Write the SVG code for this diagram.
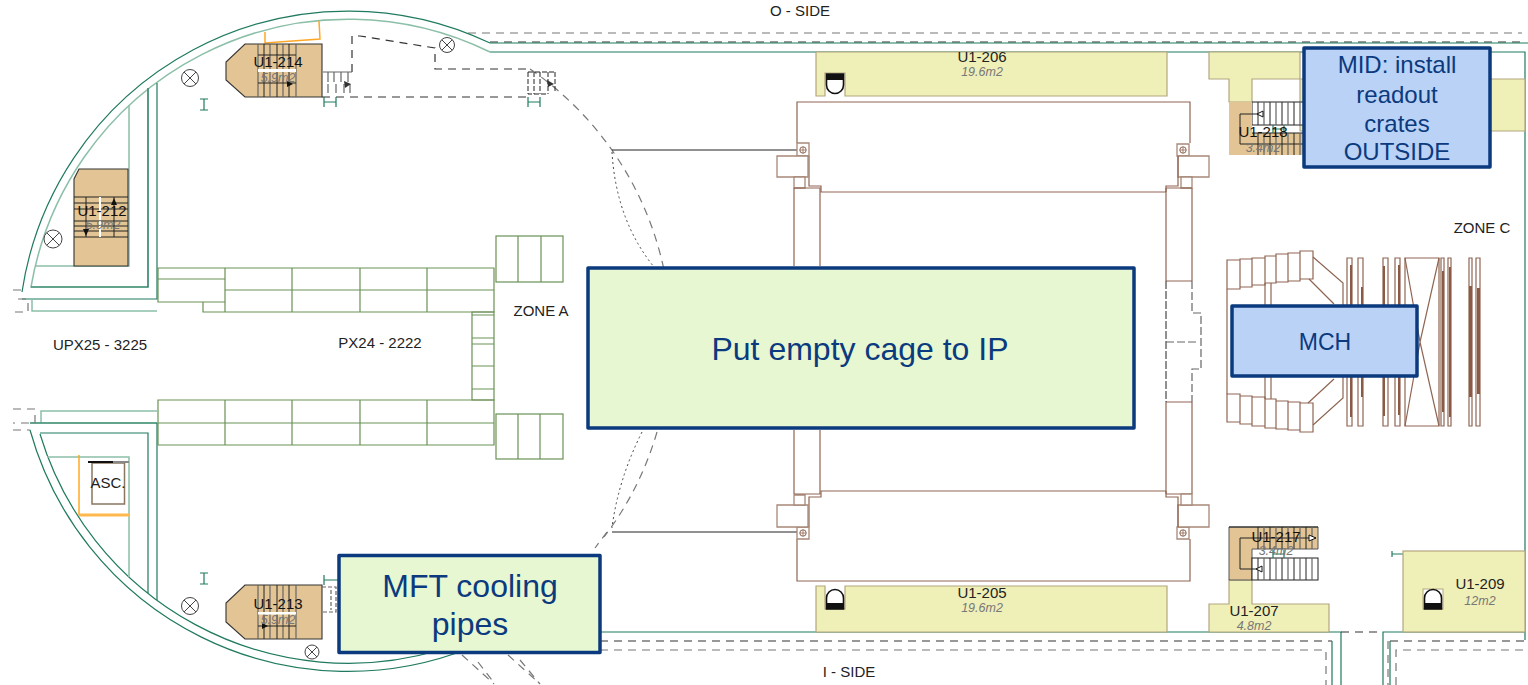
<svg xmlns="http://www.w3.org/2000/svg" width="1528" height="685" viewBox="0 0 1528 685">
<style>
text{font-family:"Liberation Sans",Arial,sans-serif;fill:#222}
.t{font-size:15px;text-anchor:middle}
.a{font-size:12.500px;text-anchor:middle;font-style:italic;fill:#777}
.s{font-size:15px;text-anchor:middle;fill:#111}
.c{fill:#0B3A7E;text-anchor:middle}
.box{stroke:#0B3A7E;stroke-width:3.500;stroke-linejoin:round}
.g{fill:#E6F7D2}.b{fill:#B9D2F6}
.w{fill:none;stroke:#1F7A5F;stroke-width:1.200}
.l{fill:none;stroke:#8CBFA8;stroke-width:1.500}
.gr{fill:none;stroke:#6B9157;stroke-width:1.200}
.d{fill:none;stroke:#333;stroke-width:1.200;stroke-dasharray:8 6}
.dg{fill:none;stroke:#777;stroke-width:1.200;stroke-dasharray:8 6}
.dt{fill:none;stroke:#444;stroke-width:1;stroke-dasharray:2 3}
.k{fill:none;stroke:#222;stroke-width:1}
.kg{fill:none;stroke:#666;stroke-width:1.200}
.br{fill:none;stroke:#8F6552;stroke-width:1.200}
.brl{fill:#fff;stroke:#A88878;stroke-width:1.300}
.bar{fill:#8B5A44}
.y{fill:#EFEFB8;stroke:#B3A67F;stroke-width:1.200}
.tan{fill:#E3C595;stroke:#333;stroke-width:1.100}
.o{fill:none;stroke:#FFA726;stroke-width:1.500}
.x{fill:#fff;stroke:#444;stroke-width:1}
</style>
<defs>
<g id="cross"><circle r="1" vector-effect="non-scaling-stroke"/><path d="M-.7-.7L.7.7M-.7.7L.7-.7" vector-effect="non-scaling-stroke"/></g>
<g id="lift"><path d="M1.500 22V11A8.500 8.500 0 0 1 18.500 11V22Z" fill="#fff" stroke="#111" stroke-width="1.600"/><rect x="1.500" y="16" width="17" height="6" fill="#111"/></g>
<g id="bolt"><circle r="3.200" fill="#fff" stroke="#8F6552" stroke-width="1"/><path d="M-3.200 0H3.200M0-3.200V3.200" stroke="#8F6552" stroke-width=".8"/></g>
</defs>

<g id="walls">
<path class="dg" d="M468 33H1522"/>
<path class="d" d="M490 42H1522"/>
<path class="w" d="M490 43H1528"/>
<path class="w" d="M490 52H1525V640"/>
<path class="w" d="M490 43A330 330 0 0 0 22 292"/>
<path class="l" d="M490 52A322 322 0 0 0 31 287H148V88"/>
<path class="w" d="M148 88V287H31"/>
<path class="w" d="M157 83V299H22"/>
<path class="l" d="M129 105V266H36"/>
<path class="l" d="M32 300V311H157"/>
<path class="dg" d="M13 290H22M18 299H28V312H13"/>
<path class="w" d="M30 430A330 330 0 0 0 470 648"/>
<path class="w" d="M40 434A322 322 0 0 0 440 650"/>
<path class="l" d="M30 423H157M41 423V411H157"/>
<path class="w" d="M30 423H157V600"/>
<path class="w" d="M40 433H148V593"/>
<path class="l" d="M47 457H129V577"/>
<path class="dg" d="M13 409H35V423H13M13 430H30"/>
<path class="o" d="M265 32V43L320 39L319 21"/>
<path class="o" d="M79 455V515"/>
<path d="M79 515H129" fill="none" stroke="#FFB84D" stroke-width="3"/>
<path class="w" d="M600 632H1341V685M1383 685V632H1525"/>
<path class="d" d="M600 641H1332M1390 641H1528"/>
<path class="dg" d="M600 650H1326V685M1396 685V650H1528"/>
<path class="w" d="M1332 641V685M1390 685V641"/>
<path class="d" d="M1341 632H1383"/>
<path class="dg" d="M1388 641V685"/>
</g>

<g id="grids">
<path class="gr" d="M158 268H494V312H203V302H158ZM158 279H225M158 302H225M225 268V312M292 268V312M360 268V312M427 268V312M225 290H494"/>
<rect class="gr" x="496" y="236" width="67" height="46"/><path class="gr" d="M518 236V282M541 236V282"/>
<path class="gr" d="M472 312H494V400H472ZM472 315H494M472 338H494M472 344H494M472 366H494M472 389H494"/>
<path class="gr" d="M158 400H494V445H158ZM158 423H494M225 400V445M292 400V445M360 400V445M427 400V445"/>
<rect class="gr" x="496" y="414" width="67" height="45"/><path class="gr" d="M518 414V459M540 414V459"/>
</g>

<g id="dashed-circle">
<path class="dg" d="M530 69A325 325 0 0 1 664 270"/>
<path class="dt" d="M612 152Q616 220 654 267"/>
<path class="k" d="M612 150H797M612 532H797"/>
<path class="dg" d="M657 432Q640 490 604 537"/>
<path class="dt" d="M642 432Q618 480 612 528"/>
<path class="dg" d="M607 532L595 548M462 655L494 684M478 662L495 684M508 655L540 684M520 660L540 684"/>
<path class="d" d="M352 72V36H360L435 48V69H530" />
<path class="d" d="M322 97H530"/>
<path class="kg" stroke-width=".8" d="M323 72H352M328 72V82M334 72V82M341 72V82M348 72V82M328 84V93M336 84V93M344 84V93M350 84V93"/>
<path d="M344 81L351 84L345 88Z" fill="#333"/>
<path class="k" stroke-width=".8" stroke-dasharray="5 2" d="M528 72V94H548M534 72V94M540 72V94M548 72V94M555 72V92M528 72H555"/>
<path d="M547 80L554 84L548 87Z" fill="#333"/>
<path class="w" d="M324 97V107M336 97V107M324 102H336M528 97V107M540 97V107M528 102H540M200 99H208M204 99V110M200 110H208M200 573H208M204 573V584M200 584H208M324 575V585M324 580H338"/>
<path class="w" d="M1392 551V557M1392 554H1403"/>
</g>

<g id="markers" class="x">
<use href="#cross" transform="translate(190 78) scale(8.500)"/>
<use href="#cross" transform="translate(447 45) scale(7.500)"/>
<use href="#cross" transform="translate(53 239) scale(9)"/>
<use href="#cross" transform="translate(190 606) scale(8.500)"/>
<use href="#cross" transform="translate(312 652) scale(7)"/>
</g>

<g id="cage">
<path class="br" d="M797 143V102H1190V143"/>
<path class="br" d="M809 156V186H821V192H1166"/>
<path class="brl" d="M797 143H809V156H797Z"/>
<path class="brl" d="M777 156H808V177H777Z"/>
<path class="brl" d="M794 177H805V188H794Z"/>
<path class="br" d="M794 188H820V266M794 188V266"/>
<path class="brl" d="M1177 144H1189V156H1177Z"/>
<path class="brl" d="M1178 156H1209V177H1178Z"/>
<path class="brl" d="M1181 177H1192V188H1181Z"/>
<path class="br" d="M1178 156V186H1166V192"/>
<path class="br" d="M1166 188H1192M1166 188V281M1192 188V281M1166 402V494M1192 402V494M1166 494H1192"/>
<path class="br" d="M1166 281H1192M1166 402H1192"/>
<path class="k" stroke-dasharray="8 2" d="M1166 281V402"/>
<path class="kg" stroke-dasharray="8 3" d="M1192 281V313H1201V369H1192V402M1166 342H1198"/>
<path class="br" d="M797 539V581H1190V539"/>
<path class="br" d="M809 527V497H821V491H1166"/>
<path class="brl" d="M797 527H809V539H797Z"/>
<path class="brl" d="M777 505H808V527H777Z"/>
<path class="brl" d="M794 495H805V505H794Z"/>
<path class="br" d="M794 494H820V430M794 494V430"/>
<path class="brl" d="M1177 527H1189V539H1177Z"/>
<path class="brl" d="M1178 505H1209V527H1178Z"/>
<path class="brl" d="M1181 494H1192V505H1181Z"/>
<path class="br" d="M1178 527V497H1166V491"/>
<use href="#bolt" x="803" y="150"/><use href="#bolt" x="1183" y="150"/><use href="#bolt" x="803" y="533"/><use href="#bolt" x="1183" y="533"/>
</g>

<g id="detector">
<path class="br" d="M1227 260H1240V289H1227ZM1240 259H1252V287H1240ZM1252 258H1265V285H1252ZM1265 256H1276V283H1265ZM1276 254H1288V282H1276ZM1288 253H1300V281H1288ZM1300 251H1313V279H1300Z"/>
<path class="br" d="M1227 289V394M1265 283V399M1271 283V399"/>
<path class="br" d="M1227 394H1240V422H1227ZM1240 396H1252V424H1240ZM1252 397H1265V426H1252ZM1265 399H1276V428H1265ZM1276 401H1288V429H1276ZM1288 402H1300V430H1288ZM1300 403H1313V432H1300Z"/>
<path class="br" d="M1313 257L1343 283V398L1313 425M1309 279L1334 304M1308 403L1334 379"/>
<path class="br" d="M1347 258H1352V426H1347ZM1358 258H1363V426H1358ZM1383 258H1388V426H1383ZM1395 258H1400V426H1395ZM1405 258H1439V426H1405ZM1441 258H1444V426H1441ZM1448 258H1451V426H1448ZM1469 258H1472V426H1469ZM1476 258H1480V426H1476Z"/>
<path class="br" d="M1405 258L1420 342L1405 426M1439 258L1420 342L1439 426"/>
<rect class="bar" x="1350" y="265" width="2" height="152"/><rect class="bar" x="1361" y="287" width="2" height="110"/>
<rect class="bar" x="1383" y="266" width="2" height="150"/><rect class="bar" x="1398" y="265" width="2" height="150"/>
<rect class="bar" x="1442" y="271" width="2" height="141"/><rect class="bar" x="1449" y="267" width="2" height="150"/>
<rect class="bar" x="1469" y="286" width="3" height="111"/><rect class="bar" x="1477" y="288" width="3" height="106"/>
</g>

<g id="u1-206"><path class="y" d="M816 52H1167V96H845V73H825V96H816Z"/><use href="#lift" transform="translate(825 96) scale(1 -1)"/><text class="t" x="982" y="62">U1-206</text><text class="a" x="982" y="76">19.6m2</text></g>
<g id="u1-205"><path class="y" d="M816 586H825V609H845V586H1167V632H816Z"/><use href="#lift" x="825" y="587"/><text class="t" x="982" y="598">U1-205</text><text class="a" x="982" y="612">19.6m2</text></g>
<g id="u1-209"><rect class="y" x="1403" y="551" width="122" height="81"/><rect x="1423" y="589" width="20" height="20" fill="#fff" stroke="#B3A67F"/><use href="#lift" x="1423" y="587"/><text class="t" x="1480" y="589">U1-209</text><text class="a" x="1480" y="605">12m2</text></g>
<g id="u1-207"><path class="y" d="M1209 632V604H1229V580H1252V604H1329V632Z"/><text class="t" x="1254" y="616">U1-207</text><text class="a" x="1254" y="630">4.8m2</text></g>

<g id="u1-217">
<path d="M1229 527H1318V549H1252V580H1229Z" fill="#E3C595" stroke="#555"/>
<rect x="1252" y="558" width="66" height="22" fill="#fff" stroke="#222"/>
<path class="k" d="M1258 527V549M1270 527V549M1282 527V549M1294 527V549M1306 527V549M1258 558V580M1270 558V580M1282 558V580M1294 558V580M1306 558V580M1316 538H1240V569H1258M1229 527H1318"/>
<path class="kg" d="M1264 527V549M1276 527V549M1288 527V549M1300 527V549M1312 527V549M1264 558V580M1276 558V580M1288 558V580M1300 558V580M1312 558V580"/>
<path d="M1309 535L1316 538L1309 541Z" fill="#fff" stroke="#111"/><path d="M1262 566L1256 569L1262 572Z" fill="#fff" stroke="#111"/>
<path class="w" d="M1273 550V558M1284 550V558M1273 554H1284"/>
<text class="s" x="1276" y="542">U1-217</text><text class="a" x="1276" y="555">3.4m2</text>
</g>

<g id="u1-213">
<path class="tan" d="M245 585H322V639H245L226 622V603Z"/>
<path class="kg" d="M258 585V639M270 585V639M283 585V639M296 585V639"/>
<path class="k" d="M264 585V639M277 585V639M289 585V639"/>
<rect x="258" y="612" width="38" height="2.500" fill="#fff"/>
<path class="k" d="M258 626H296"/><path d="M262 623L268 626L262 629Z" fill="#111"/>
<text class="s" x="278" y="609">U1-213</text><text class="a" x="278" y="624">5.9m2</text>
<path class="kg" stroke-dasharray="4 2" d="M322 587H336V612H322M331 590V610"/>
</g>

<g id="u1-214">
<path class="tan" d="M245 44H322V97H245L226 80V62Z"/>
<path class="kg" d="M258 44V97M270 44V97M283 44V97M296 44V97"/>
<path class="k" d="M264 44V97M277 44V97M289 44V97"/>
<rect x="258" y="69" width="38" height="3" fill="#fff"/>
<path class="k" d="M258 55H296M258 83H296"/><path d="M287 81L293 84L287 87Z" fill="#111"/>
<text class="s" x="278" y="67">U1-214</text><text class="a" x="278" y="82">5.9m2</text>
</g>

<g id="u1-212">
<path class="tan" d="M79 169H128V266H74V179Z"/>
<path class="k" d="M74 197H128M74 203H128M74 209H128M74 221H128M74 226H128M74 231H128M74 237H128M86 197V237M114 197V237"/>
<rect x="99" y="197" width="2" height="40" fill="#fff"/>
<text class="s" x="102" y="216">U1-212</text><text class="a" x="103" y="229">5.9m2</text>
<path d="M114 198L111 205H117ZM86 236L83 229H89Z" fill="#111"/>
</g>

<g id="asc">
<rect x="92" y="463" width="32.500" height="41" fill="#fff" stroke="#8A7560" stroke-width="1.500"/>
<path d="M88 462H113" stroke="#111" stroke-width="2"/><path d="M113 462H129" stroke="#888" stroke-width="2"/>
<text class="t" x="108" y="488">ASC.</text>
</g>

<g id="u1-218">
<path class="y" d="M1209 52V79H1229V102H1252V79H1525V131H1300V52Z"/>
<path d="M1252 102H1310V125H1252Z" fill="#fff" stroke="#222"/>
<path d="M1229 102H1252V133H1310V155H1229Z" fill="#E3C595"/>
<path class="k" d="M1258 102V125M1270 102V125M1282 102V125M1294 102V125M1258 133V155M1270 133V155M1282 133V155M1294 133V155M1258 114H1240V144H1310M1252 133H1310"/>
<path class="kg" d="M1264 102V125M1276 102V125M1288 102V125M1300 102V125M1264 133V155M1276 133V155M1288 133V155M1300 133V155"/>
<path d="M1263 111L1257 114L1263 117Z" fill="#fff" stroke="#111"/>
<path class="w" d="M1273 125V133M1284 125V133M1273 129H1284"/>
<text class="s" x="1263" y="137">U1-218</text><text class="a" x="1263" y="152">3.4m2</text>
</g>

<g id="labels">
<text class="t" x="800" y="16">O - SIDE</text>
<text class="t" x="849" y="677">I - SIDE</text>
<text class="t" x="541" y="316">ZONE A</text>
<text class="t" x="1482" y="233">ZONE C</text>
<text class="t" x="100" y="350">UPX25 - 3225</text>
<text class="t" x="380" y="348">PX24 - 2222</text>
</g>

<g id="put-empty-cage">
<rect class="box g" x="588" y="268" width="546" height="160"/>
<text class="c" x="860" y="360" font-size="32">Put empty cage to IP</text>
</g>
<g id="mft-cooling-pipes">
<rect class="box g" x="339" y="555.500" width="261" height="97"/>
<text class="c" x="470" y="597" font-size="32">MFT cooling</text>
<text class="c" x="470" y="635" font-size="32">pipes</text>
</g>
<g id="mid">
<rect class="box b" x="1304" y="48" width="186" height="119"/>
<text class="c" x="1397" y="73" font-size="24">MID: install</text>
<text class="c" x="1397" y="103" font-size="24">readout</text>
<text class="c" x="1397" y="132" font-size="24">crates</text>
<text class="c" x="1397" y="160" font-size="24">OUTSIDE</text>
</g>
<g id="mch">
<rect class="box b" x="1232" y="306" width="185" height="70"/>
<text class="c" x="1325" y="350" font-size="23">MCH</text>
</g>
</svg>
